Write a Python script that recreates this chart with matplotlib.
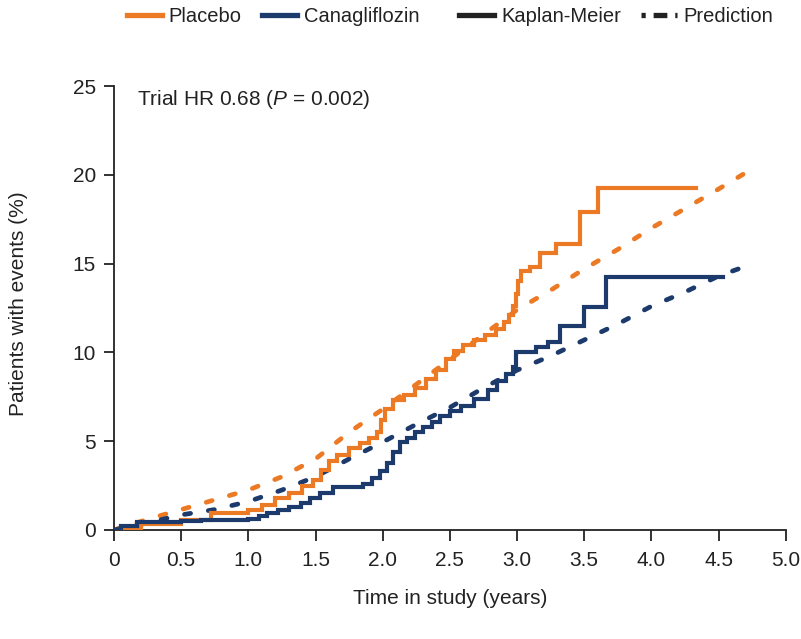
import matplotlib
matplotlib.use("Agg")
import matplotlib.pyplot as plt
from matplotlib.lines import Line2D

FONT = ['Liberation Sans', 'DejaVu Sans']
plt.rcParams['font.family'] = FONT
plt.rcParams['mathtext.fontset'] = 'custom'
plt.rcParams['mathtext.rm'] = 'Liberation Sans'
plt.rcParams['mathtext.it'] = 'Liberation Sans:italic'

ORANGE = '#EC7A25'
BLUE = '#1C3A6C'
INK = '#222222'

# Kaplan-Meier step data (time in years, % with events)
placebo_km_t = [0, 0.12, 0.2, 0.5, 0.72, 1.0, 1.1, 1.2, 1.3, 1.4, 1.48, 1.54, 1.6, 1.66,
                1.75, 1.83, 1.9, 1.96, 1.99, 2.02, 2.08, 2.16, 2.24, 2.32, 2.4, 2.47,
                2.53, 2.6, 2.68, 2.76, 2.84, 2.9, 2.94, 2.97, 2.99, 3.01, 3.03, 3.1,
                3.17, 3.29, 3.47, 3.6, 4.33]
placebo_km_v = [0, 0.1, 0.35, 0.55, 0.95, 1.1, 1.4, 1.8, 2.1, 2.5, 2.8, 3.4, 3.9, 4.2,
                4.6, 4.9, 5.2, 5.5, 6.2, 6.8, 7.3, 7.6, 8.0, 8.5, 9.0, 9.6,
                10.1, 10.4, 10.7, 11.0, 11.3, 11.7, 12.1, 12.6, 13.3, 14.0, 14.6, 14.8,
                15.6, 16.1, 17.9, 19.25, 19.25]

cana_km_t = [0, 0.05, 0.17, 0.3, 0.5, 0.65, 1.0, 1.08, 1.14, 1.22, 1.3, 1.39, 1.46,
             1.53, 1.63, 1.85, 1.92, 1.98, 2.03, 2.08, 2.13, 2.18, 2.24, 2.3, 2.37,
             2.43, 2.5, 2.58, 2.68, 2.78, 2.85, 2.92, 2.97, 2.99, 3.14, 3.23, 3.32,
             3.5, 3.66, 4.53]
cana_km_v = [0, 0.2, 0.45, 0.45, 0.5, 0.55, 0.6, 0.8, 0.95, 1.15, 1.3, 1.5, 1.8,
             2.1, 2.4, 2.6, 2.9, 3.3, 3.8, 4.4, 4.95, 5.2, 5.5, 5.8, 6.1,
             6.4, 6.7, 7.0, 7.4, 7.9, 8.4, 8.8, 9.2, 10.0, 10.3, 10.6, 11.5,
             12.55, 14.25, 14.25]

# Model predictions
pred_t = [0, 0.25, 0.5, 0.75, 1.0, 1.25, 1.5, 1.75, 2.0, 2.25, 2.5, 2.75, 3.0, 3.25,
          3.5, 3.75, 4.0, 4.25, 4.5, 4.72]
placebo_pred_v = [0, 0.6, 1.15, 1.7, 2.25, 3.0, 4.0, 5.5, 6.8, 8.2, 9.6, 11.0, 12.4,
                  13.5, 14.7, 15.8, 17.0, 18.1, 19.2, 20.2]
cana_pred_v = [0, 0.4, 0.85, 1.15, 1.6, 2.25, 3.0, 4.0, 4.95, 5.95, 6.9, 8.0, 9.0,
               9.8, 10.7, 11.6, 12.6, 13.4, 14.3, 14.9]

x_ticks = [0, 0.5, 1.0, 1.5, 2.0, 2.5, 3.0, 3.5, 4.0, 4.5, 5.0]
x_ticklabels = ['0', '0.5', '1.0', '1.5', '2.0', '2.5', '3.0', '3.5', '4.0', '4.5', '5.0']
y_ticks = [0, 5, 10, 15, 20, 25]

fig = plt.figure(figsize=(8.01, 6.39), dpi=100)
ax = fig.add_axes([0.1423, 0.1706, 0.8387, 0.6948])

LW = 3.0
DLW = 3.4
DASH = (1.3, 3.8)
ax.plot(pred_t, placebo_pred_v, color=ORANGE, lw=DLW, dashes=DASH,
        dash_capstyle='round', zorder=2)
ax.plot(pred_t, cana_pred_v, color=BLUE, lw=DLW, dashes=DASH,
        dash_capstyle='round', zorder=2)
ax.plot(placebo_km_t, placebo_km_v, color=ORANGE, lw=LW, drawstyle='steps-post',
        solid_joinstyle='miter', zorder=3)
ax.plot(cana_km_t, cana_km_v, color=BLUE, lw=LW, drawstyle='steps-post',
        solid_joinstyle='miter', zorder=3)

ax.set_xlim(0, 5.0)
ax.set_ylim(0, 25)
ax.set_xticks(x_ticks)
ax.set_xticklabels(x_ticklabels)
ax.set_yticks(y_ticks)
for s in ['top', 'right']:
    ax.spines[s].set_visible(False)
for s in ['left', 'bottom']:
    ax.spines[s].set_linewidth(1.3)
    ax.spines[s].set_color(INK)
ax.tick_params(axis='both', direction='out', width=1.3, color=INK,
               labelsize=15, labelcolor=INK)
ax.tick_params(axis='x', length=8, pad=7)
ax.tick_params(axis='y', length=7, pad=6)

ax.set_xlabel('Time in study (years)', fontsize=15, color=INK)
ax.xaxis.set_label_coords(0.5, -0.133)
ax.set_ylabel('Patients with events (%)', fontsize=15, color=INK)
ax.yaxis.set_label_coords(-0.128, 0.51)

ax.text(0.034, 0.995, r'Trial HR 0.68 ($\mathit{P}$ = 0.002)', transform=ax.transAxes,
        fontsize=15, color=INK, va='top', ha='left')

LEG_KW = dict(loc='center left', ncol=2, frameon=False, fontsize=14.5,
              handlelength=1.75, handletextpad=0.35, columnspacing=1.0,
              borderpad=0, borderaxespad=0)
h1 = [Line2D([], [], color=ORANGE, lw=3.8), Line2D([], [], color=BLUE, lw=3.8)]
leg1 = fig.legend(h1, ['Placebo', 'Canagliflozin'],
                  bbox_to_anchor=(0.158, 0.974), **LEG_KW)
h2 = [Line2D([], [], color=INK, lw=3.8),
      Line2D([], [], color=INK, lw=3.8, dashes=(0.8, 1.5, 2.6, 1.5))]
leg2 = fig.legend(h2, ['Kaplan-Meier', 'Prediction'],
                  bbox_to_anchor=(0.573, 0.974), **LEG_KW)
for leg in (leg1, leg2):
    for t in leg.get_texts():
        t.set_color(INK)

fig.savefig('out.png', dpi=100)
